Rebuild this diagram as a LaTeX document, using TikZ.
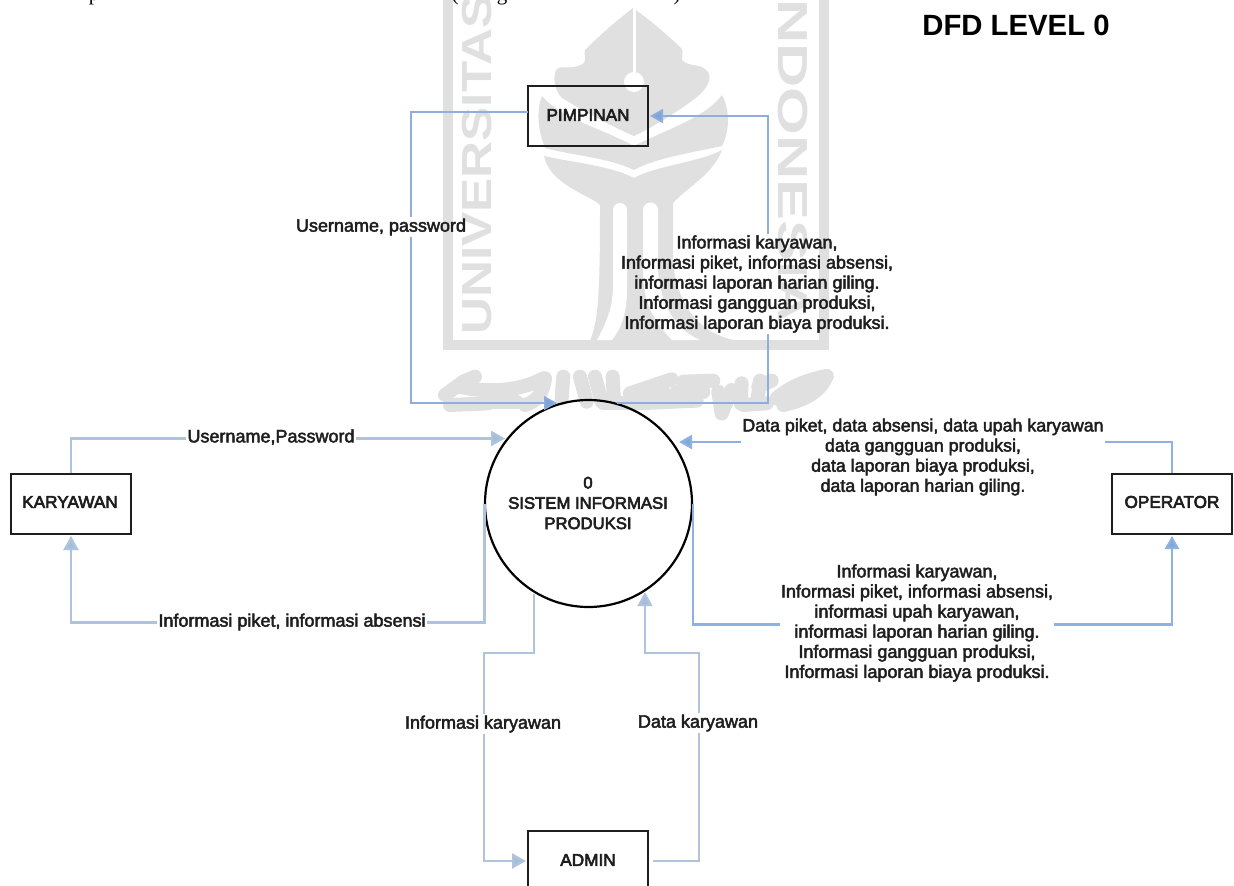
\documentclass[tikz,border=0pt]{standalone}
\usepackage{fontspec}
\setmainfont{Liberation Sans}
\newfontfamily\lblf[FakeBold=2.5]{Liberation Sans}
\newfontfamily\entf[FakeBold=3.5]{Liberation Sans}
\newfontfamily\serf{Liberation Serif}
\usetikzlibrary{arrows.meta}
\definecolor{wm}{HTML}{E0E0E0}
\definecolor{thinblue}{HTML}{8FAEDB}
\definecolor{palesteel}{HTML}{AFC3DC}
\definecolor{skyblue}{HTML}{8DB1E2}
\definecolor{tipA}{HTML}{7FA6DA}
\definecolor{tipB}{HTML}{A3BEDA}
\definecolor{ink}{HTML}{1E1E1E}
\tikzset{
  x=1pt,y=-1pt,
  entity/.style={draw=ink,line width=2pt,minimum width=120pt,minimum height=60pt,inner sep=0pt},
  proc/.style={circle,draw=black,line width=2.2pt,minimum size=207pt,inner sep=0pt},
  enttext/.style={inner sep=0pt,font={\entf\fontsize{17.2}{20}\selectfont},text=ink},
  systext/.style={inner sep=0pt,align=center,font={\entf\fontsize{16.7}{20.3}\selectfont},text=ink},
  lbl/.style={inner sep=1pt,align=center,font={\lblf\fontsize{18}{20.1}\selectfont},text=ink},
  thinflow/.style={draw=thinblue,line width=1.6pt,line join=miter},
  paleflow/.style={draw=palesteel,line width=2.4pt,line join=miter},
  skyflow/.style={draw=skyblue,line width=2.4pt,line join=miter},
  tipa/.style={-{Triangle[length=13pt,width=14pt,fill=tipA]},shorten >=1pt},
  tipb/.style={-{Triangle[length=14pt,width=15pt,fill=tipB]},shorten >=1pt},
  wmtext/.style={text=wm,inner sep=0pt,font={\bfseries\fontsize{42}{42}\selectfont}},
  wmstroke/.style={draw=wm,line width=14pt,line cap=round,line join=round},
  frag/.style={inner sep=0pt,anchor=base,text=black,font={\serf\fontsize{21}{24}\selectfont}}
}
\begin{document}
\begin{tikzpicture}
\useasboundingbox (0,0) rectangle (1234,886);
\clip (0,0) rectangle (1234,886);
\fill[white] (0,0) rectangle (1234,886);
% --- watermark ---
\draw[wm,line width=10pt] (448,-10) -- (448,345) -- (824,345) -- (824,-10);
\node[wmtext,rotate=90,anchor=west] (wmU) at (477,335) {\scalebox{1.22}[1]{UNIVERSITAS}};
\node[wmtext,rotate=-90,anchor=west] (wmI) at (793,-18) {\scalebox{1.46}[1]{INDONESIA}};
% crown
\fill[wm] (633,8) .. controls (615,22) and (600,35) .. (585,50)
  .. controls (583,58) and (590,62) .. (578,66)
  .. controls (565,70) and (562,64) .. (556,70)
  .. controls (552,80) and (556,92) .. (562,98)
  .. controls (585,112) and (615,128) .. (634,136)
  .. controls (655,126) and (680,110) .. (697,97)
  .. controls (708,88) and (712,78) .. (708,72)
  .. controls (700,62) and (690,68) .. (682,60)
  .. controls (682,55) and (684,50) .. (680,47)
  .. controls (665,33) and (650,20) .. (633,8) -- cycle;
% middle leaf
\fill[wm] (542,96) .. controls (560,118) and (605,130) .. (634,146)
  .. controls (665,130) and (705,118) .. (722,95)
  .. controls (730,110) and (730,130) .. (722,146)
  .. controls (695,152) and (655,158) .. (634,170)
  .. controls (610,158) and (570,155) .. (545,148)
  .. controls (538,130) and (536,112) .. (542,96) -- cycle;
% fan and trunk
\fill[wm] (544,156) .. controls (570,162) and (612,166) .. (634,178)
  .. controls (655,166) and (700,162) .. (722,150)
  .. controls (712,175) and (690,185) .. (673,203)
  -- (673,265) .. controls (678,300) and (695,335) .. (740,341)
  -- (590,341) .. controls (598,320) and (600,300) .. (600,205)
  .. controls (590,195) and (550,185) .. (544,156) -- cycle;
% slots of the trunk
\fill[white] (613,210) arc[start angle=180,end angle=0,radius=7pt]
  -- (627,290) .. controls (627,315) and (620,330) .. (612,340) -- (597,340)
  .. controls (608,320) and (613,305) .. (613,285) -- cycle;
\fill[white] (643,210) arc[start angle=180,end angle=0,radius=7.5pt]
  -- (658,270) .. controls (660,300) and (672,328) .. (700,340) -- (672,340)
  .. controls (652,320) and (643,300) .. (643,270) -- cycle;
\draw[white,line width=3pt] (634,6) -- (634,72);
\fill[white] (634,82) circle[radius=10pt];
% calligraphy
\begin{scope}[shift={(430,360)},x=0.3333pt,y=-0.3333pt]
  \draw[wmstroke] (45,105) -- (100,65) -- (135,50);
  \draw[wmstroke] (90,80) .. controls (150,95) and (260,100) .. (340,55);
  \draw[wmstroke] (60,135) -- (175,130);
  \draw[wmstroke] (345,55) .. controls (340,100) and (320,125) .. (285,135);
  \draw[wmstroke] (190,125) -- (260,125);
  \draw[wmstroke] (400,50) -- (395,115);
  \draw[wmstroke] (450,50) -- (470,125);
  \draw[wmstroke] (495,50) -- (515,125);
  \draw[wmstroke] (548,50) -- (552,125);
  \draw[wmstroke] (520,130) -- (600,130);
  \draw[wmstroke] (600,100) -- (725,58);
  \draw[wmstroke] (620,130) -- (800,122);
  \draw[wmstroke] (640,90) -- (700,95);
  \draw[wmstroke] (760,65) -- (850,62);
  \draw[wmstroke] (740,95) -- (820,95);
  \draw[wmstroke] (865,95) -- (875,160);
  \draw[wmstroke] (875,160) -- (905,90);
  \draw[wmstroke] (935,70) -- (932,130);
  \draw[wmstroke] (990,62) -- (982,125);
  \draw[wmstroke] (985,80) -- (1025,62);
  \draw[wmstroke] (940,135) -- (1010,130);
  \draw[wmstroke] (1040,115) .. controls (1080,80) and (1130,60) .. (1190,48);
  \draw[wmstroke] (1190,48) .. controls (1175,90) and (1130,120) .. (1060,135);
  \draw[wmstroke] (1080,100) -- (1140,85);
\end{scope}
% --- clipped line of text at the top ---
\node[frag] (fragp) at (94,1) {p};
\node[frag] (fragq) at (455,1) {(};
\node[frag] (fragg) at (502,1) {g};
\node[frag] (fragr) at (677,1) {)};
% --- title ---
\node[inner sep=0pt,text=black,font={\bfseries\fontsize{29.3}{30}\selectfont}] (title) at (1016,25) {DFD LEVEL 0};
% --- entities ---
\node[entity] (pim) at (588,116) {};
\node[entity] (kar) at (71,504) {};
\node[entity] (ope) at (1172,504) {};
\node[entity] (adm) at (588,861) {};
\node[proc] (sys) at (588.5,503.5) {};
\node[enttext] (pimt) at (588,115) {PIMPINAN};
\node[enttext] (kart) at (70,502) {KARYAWAN};
\node[enttext] (opet) at (1172,502) {OPERATOR};
\node[enttext] (admt) at (588,860) {ADMIN};
\node[systext] (syst) at (588,503) {0\\SISTEM INFORMASI\\PRODUKSI};
% --- labels ---
\node[lbl] (lup) at (381,227) {Username, password};
\node[lbl] (linfo) at (757,284) {Informasi karyawan,\\Informasi piket, informasi absensi,\\informasi laporan harian giling.\\Informasi gangguan produksi,\\Informasi laporan biaya produksi.};
\node[lbl] (lkup) at (271,437) {Username,Password};
\node[lbl] (lkin) at (292,622) {Informasi piket, informasi absensi};
\node[lbl,font={\lblf\fontsize{17.8}{20.1}\selectfont}] (ldata) at (923,457) {Data piket, data absensi, data upah karyawan\\data gangguan produksi,\\data laporan biaya produksi,\\data laporan harian giling.};
\node[lbl] (lopi) at (917,623) {Informasi karyawan,\\Informasi piket, informasi absensi,\\informasi upah karyawan,\\informasi laporan harian giling.\\Informasi gangguan produksi,\\Informasi laporan biaya produksi.};
\node[lbl] (lak) at (483,724) {Informasi karyawan};
\node[lbl] (lad) at (698,723) {Data karyawan};
% --- bends ---
\coordinate (a0) at (528,112);
\coordinate (a1) at (411,112);
\coordinate (a2) at (411,403);
\coordinate (a3) at (558,403);
\coordinate (b1) at (768,403);
\coordinate (b2) at (768,116);
\coordinate (c1) at (71,438.5);
\coordinate (c2) at (71,622.5);
\coordinate (c3) at (484.5,622.5);
\coordinate (d1) at (1172,442);
\coordinate (d2) at (678,442);
\coordinate (e1) at (1172,624.5);
\coordinate (e2) at (693,624.5);
\coordinate (f1) at (534,653);
\coordinate (f2) at (484,653);
\coordinate (f3) at (484,861);
\coordinate (g0) at (653,861);
\coordinate (g1) at (699,861);
\coordinate (g2) at (699,653);
\coordinate (g3) at (645,653);
% --- connectors ---
\draw[thinflow] (a0) -- (a1) -- (lup.north -| a1);
\draw[thinflow,tipa] (lup.south -| a1) -- (a2) -- (a3);
\draw[thinflow] (sys.74 |- b1) -- (b1) -- (linfo.south -| b1);
\draw[thinflow,tipa] (linfo.north -| b2) -- (b2) -- (pim.east |- b2);
\draw[paleflow] (kar.north -| c1) -- (c1) -- (lkup.west |- c1);
\draw[paleflow,tipb] (lkup.east |- c1) -- (sys.142 |- c1);
\draw[paleflow] (sys.west -| c3) -- (c3) -- (lkin.east |- c3);
\draw[paleflow,tipb] (lkin.west |- c2) -- (c2) -- (kar.south -| c2);
\draw[skyflow] (ope.north -| d1) -- (d1) -- (ldata.east |- d1);
\draw[skyflow,tipa] (ldata.west |- d2) -- (d2);
\draw[skyflow] (sys.east -| e2) -- (e2) -- (lopi.west |- e2);
\draw[skyflow,tipa] (lopi.east |- e1) -- (e1) -- (ope.south -| e1);
\draw[paleflow] (sys.-120 -| f1) -- (f1) -- (f2) -- (lak.north -| f2);
\draw[paleflow,tipb] (lak.south -| f3) -- (f3) -- (adm.west |- f3);
\draw[paleflow] (g0) -- (g1) -- (lad.south -| g1);
\draw[paleflow,tipb] (lad.north -| g2) -- (g2) -- (g3) -- (sys.-57 -| g3);
\end{tikzpicture}
\end{document}
